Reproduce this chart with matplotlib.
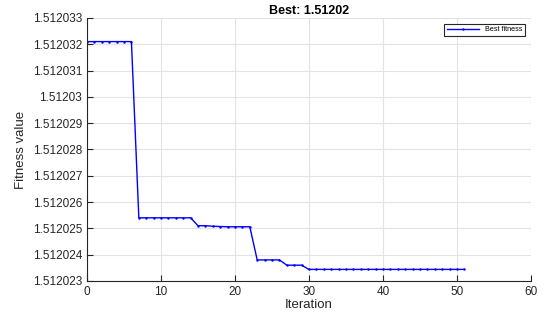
import matplotlib
matplotlib.use('Agg')
import matplotlib.pyplot as plt
from matplotlib.ticker import FuncFormatter
import numpy as np

plt.rcParams['font.family'] = ['Liberation Sans', 'DejaVu Sans']

# best fitness per iteration (0..51)
iteration = list(range(52))
best_fitness = ([1.5120321] * 7
                + [1.5120254] * 8
                + [1.5120251, 1.5120251, 1.51202508, 1.51202507,
                   1.51202506, 1.51202506, 1.51202506, 1.51202506]
                + [1.5120238] * 4
                + [1.5120236] * 3
                + [1.51202344] * 22)
title_text = 'Best: 1.51202'
yticks = [1.512023 + k * 1e-6 for k in range(11)]
xticks = [0, 10, 20, 30, 40, 50, 60]

fig = plt.figure(figsize=(5.44, 3.2), dpi=100)
ax = fig.add_axes([0.16, 0.122, 0.816, 0.822])

ax.plot(iteration, best_fitness, color='#0000ff', lw=1.0, marker='.',
        markersize=1.5, label='Best fitness')

ax.set_xlim(0, 60)
ax.set_ylim(1.512023, 1.512033)
ax.set_xticks(xticks)
ax.set_yticks(yticks)
ax.yaxis.set_major_formatter(FuncFormatter(lambda v, p: '{:.7g}'.format(v)))

ax.grid(True, color='#e3e3e3', lw=0.8)
ax.set_axisbelow(True)
for s in ['top', 'right']:
    ax.spines[s].set_visible(False)
for s in ['left', 'bottom']:
    ax.spines[s].set_color('#262626')
    ax.spines[s].set_linewidth(0.8)
ax.tick_params(direction='in', length=4, width=0.8, colors='#262626',
               labelsize=8.5, labelcolor='#262626')

ax.set_title(title_text, fontsize=9, fontweight='bold', pad=3)
ax.set_xlabel('Iteration', fontsize=9.5, color='#262626', labelpad=1)
ax.set_ylabel('Fitness value', fontsize=9.5, color='#262626', labelpad=4)

leg = ax.legend(loc='upper right', fontsize=5.2, fancybox=False,
                edgecolor='#262626', framealpha=1, handlelength=4.5,
                borderpad=0.35, borderaxespad=0.8)
leg.get_frame().set_linewidth(0.8)

fig.savefig('out.png', dpi=100)
